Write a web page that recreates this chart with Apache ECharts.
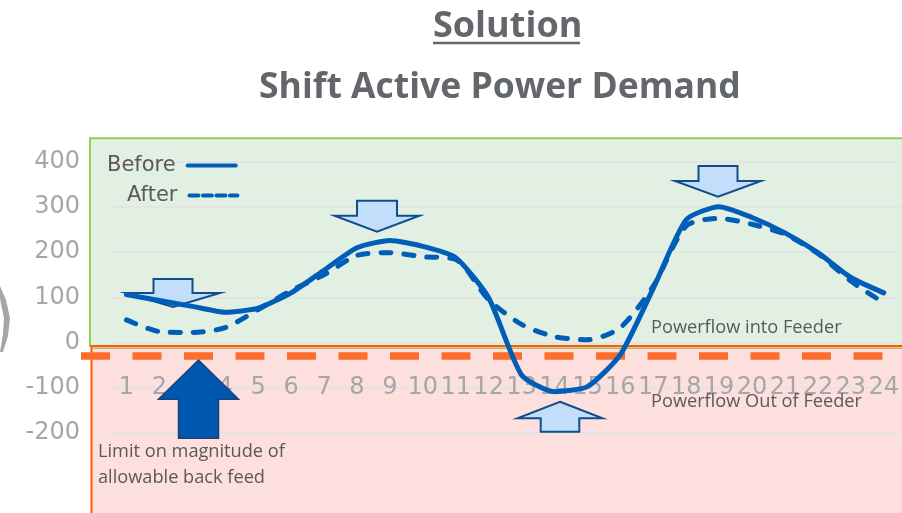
<!DOCTYPE html>
<html>
<head>
<meta charset="utf-8">
<script src="https://cdn.jsdelivr.net/npm/echarts@6/dist/echarts.min.js"></script>
<style>
  html, body { margin: 0; padding: 0; background: #ffffff; }
  #chart { width: 902px; height: 513px; }
</style>
</head>
<body>
<div id="chart"></div>
<script>
// ---- data ----
const hours = ['1','2','3','4','5','6','7','8','9','10','11','12','13','14','15','16','17','18','19','20','21','22','23','24'];
const before = [106, 93, 80, 67, 76, 110, 160, 210, 226, 213, 188, 99, -72, -109, -98, -27, 120, 272, 301, 277, 243, 199, 144, 110];
const after  = [50, 24, 22, 33, 73, 115, 150, 193, 199, 190, 184, 95, 40, 13, 6, 33, 125, 258, 275, 262, 240, 197, 136, 88];
const yTicks = [-200, -100, 0, 100, 200, 300, 400];
const limitValue = [-30];
const seriesNames = ['Before', 'After'];

const LINE_COLOR = '#005eb8';
const chart = echarts.init(document.getElementById('chart'), null, { renderer: 'canvas' });

function downArrow(cx, top, stemHalf, stemH, headHalf, headH) {
  return [
    [cx - stemHalf, top], [cx + stemHalf, top], [cx + stemHalf, top + stemH],
    [cx + headHalf, top + stemH], [cx, top + stemH + headH], [cx - headHalf, top + stemH],
    [cx - stemHalf, top + stemH]
  ];
}
function upArrow(cx, tip, headHalf, headH, stemHalf, bottom) {
  return [
    [cx, tip], [cx + headHalf, tip + headH], [cx + stemHalf, tip + headH],
    [cx + stemHalf, bottom], [cx - stemHalf, bottom], [cx - stemHalf, tip + headH],
    [cx - headHalf, tip + headH]
  ];
}

const lightFill = '#c2defb', lightStroke = '#124c8c';
const legendText = { fontFamily: 'DejaVu Sans', fontSize: 21, color: '#595959', padding: [0, 7, 0, 0] };
const hiddenSymbol = { opacity: 0, color: 'rgba(0,0,0,0)', borderWidth: 0 };

const option = {
  animation: false,
  title: [
    { text: 'Solution', left: 428, top: 4,
      textStyle: { fontFamily: 'Open Sans', fontWeight: 'bold', fontSize: 36, color: '#63666a' } },
    { text: 'Shift Active Power Demand', left: 254, top: 65,
      textStyle: { fontFamily: 'Open Sans', fontWeight: 'bold', fontSize: 35.5, color: '#63666a' } }
  ],
  legend: [
    { data: [seriesNames[0]], left: 102, top: 150, align: 'right', itemWidth: 48, itemHeight: 12,
      itemStyle: hiddenSymbol,
      lineStyle: { width: 4, type: 'solid', color: LINE_COLOR },
      textStyle: legendText },
    { data: [seriesNames[1]], left: 122, top: 180, align: 'right', itemWidth: 48, itemHeight: 12,
      itemStyle: hiddenSymbol,
      lineStyle: { width: 4, type: [9, 4.5], color: LINE_COLOR },
      textStyle: legendText }
  ],
  grid: { left: 110, right: 1, top: 162, bottom: 80.3, containLabel: false },
  xAxis: {
    type: 'category', data: hours, boundaryGap: true, position: 'bottom', offset: -90,
    axisLine: { show: false, onZero: false },
    axisTick: { show: false },
    axisLabel: { interval: 0, margin: 33, fontFamily: 'DejaVu Sans', fontSize: 24, color: '#a6a6a6', hideOverlap: false },
    splitLine: { show: false }
  },
  yAxis: {
    type: 'value', min: yTicks[0], max: yTicks[yTicks.length - 1], interval: 100,
    axisLine: { show: false }, axisTick: { show: false },
    axisLabel: { margin: 30, fontFamily: 'DejaVu Sans', fontSize: 24, color: '#a6a6a6' },
    splitLine: { show: true, lineStyle: { color: '#e4e4e4', width: 2 } }
  },
  series: [
    { name: seriesNames[0], type: 'line', data: before, smooth: 0.2, symbol: 'none', z: 4,
      lineStyle: { color: LINE_COLOR, width: 5, type: 'solid', cap: 'round', join: 'round' },
      itemStyle: { color: LINE_COLOR } },
    { name: seriesNames[1], type: 'line', data: after, smooth: 0.25, symbol: 'none', z: 3,
      lineStyle: { color: LINE_COLOR, width: 5, type: [10, 13], cap: 'round', join: 'round' },
      itemStyle: { color: LINE_COLOR } }
  ]
};
chart.setOption(option);

// decorations, placed with the chart's own scale
const y0 = chart.convertToPixel({ yAxisIndex: 0 }, 0);
const yLimit = chart.convertToPixel({ yAxisIndex: 0 }, limitValue[0]);

const textStyleAnn = { fontFamily: 'Open Sans', fontSize: 18.2, fill: '#595959', verticalAlign: 'middle' };

chart.setOption({
  graphic: [
    { type: 'rect', z: -10, silent: true,
      shape: { x: 90, y: 138.3, width: 830, height: y0 + 3.5 - 138.3 },
      style: { fill: '#e1f0e3', stroke: '#92d050', lineWidth: 2 } },
    { type: 'rect', z: -9, silent: true,
      shape: { x: 91.5, y: y0 + 3.5, width: 830, height: 200 },
      style: { fill: '#fde0dd', stroke: '#ff5a00', lineWidth: 2 } },
    { type: 'line', z: -8, silent: true,
      shape: { x1: 92.5, y1: y0 + 5.8, x2: 902, y2: y0 + 5.8 },
      style: { stroke: '#b4b85c', lineWidth: 1.5 } },
    { type: 'line', z: 1, silent: true,
      shape: { x1: 81, y1: yLimit, x2: 902, y2: yLimit },
      style: { stroke: '#ff6d2e', lineWidth: 7.5, lineDash: [29, 22.5] } },
    { type: 'polygon', z: 1, silent: true,
      shape: { points: [[0, 286], [6, 300], [10, 318], [8, 336], [3, 352], [0, 352], [3, 334], [4, 318], [1, 304], [0, 298]] },
      style: { fill: '#a6a6a6' } },
    { type: 'polygon', z: 1, silent: true,
      shape: { points: downArrow(173, 279, 19.5, 14, 47, 14) },
      style: { fill: lightFill, stroke: lightStroke, lineWidth: 2 } },
    { type: 'polygon', z: 1, silent: true,
      shape: { points: downArrow(377, 200.7, 20, 15, 42.5, 16) },
      style: { fill: lightFill, stroke: lightStroke, lineWidth: 2 } },
    { type: 'polygon', z: 1, silent: true,
      shape: { points: downArrow(718, 166, 19.5, 15, 43, 15.7) },
      style: { fill: lightFill, stroke: lightStroke, lineWidth: 2 } },
    { type: 'polygon', z: 1, silent: true,
      shape: { points: upArrow(560, 401.7, 42.5, 16.6, 19.3, 431.7) },
      style: { fill: lightFill, stroke: lightStroke, lineWidth: 2 } },
    { type: 'polygon', z: 20, silent: true,
      shape: { points: upArrow(198.5, 360, 40, 39.3, 20, 438.3) },
      style: { fill: '#0057ae', stroke: '#1f3f77', lineWidth: 1.5 } },
    { type: 'text', z: 5, silent: true, x: 651, y: 327.5,
      style: Object.assign({ text: 'Powerflow into Feeder' }, textStyleAnn) },
    { type: 'text', z: 5, silent: true, x: 651, y: 402,
      style: Object.assign({ text: 'Powerflow Out of Feeder' }, textStyleAnn) },
    { type: 'text', z: 5, silent: true, x: 98, y: 451.5,
      style: Object.assign({ text: 'Limit on magnitude of' }, textStyleAnn) },
    { type: 'text', z: 5, silent: true, x: 98, y: 477.5,
      style: Object.assign({ text: 'allowable back feed' }, textStyleAnn) },
    { type: 'line', z: 5, silent: true,
      shape: { x1: 433, y1: 43, x2: 580, y2: 43 },
      style: { stroke: '#63666a', lineWidth: 2.5 } }
  ]
});
</script>
</body>
</html>
